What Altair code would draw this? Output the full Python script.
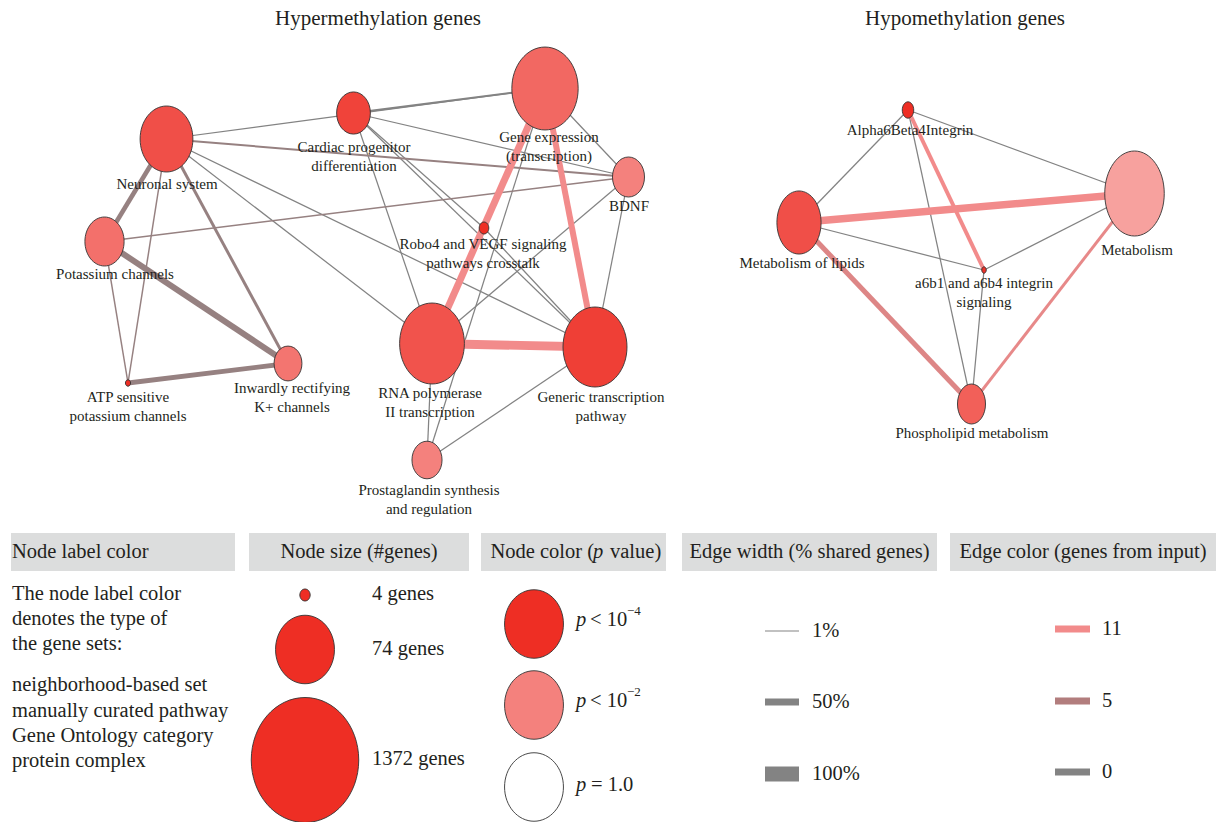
import altair as alt
import pandas as pd

W, H = 1219, 822
FONT = "Liberation Serif"
INK = "#231f20"

# ---------------- Hypermethylation gene-set network ----------------
hyper_ids = ["NEU", "POT", "ATP", "INW", "CAR", "GEX", "BDN", "ROB", "RNA", "GEN", "PRO"]
hyper_labels = [
    "Neuronal system",
    "Potassium channels",
    "ATP sensitive\npotassium channels",
    "Inwardly rectifying\nK+ channels",
    "Cardiac progenitor\ndifferentiation",
    "Gene expression\n(transcription)",
    "BDNF",
    "Robo4 and VEGF signaling\npathways crosstalk",
    "RNA polymerase\nII transcription",
    "Generic transcription\npathway",
    "Prostaglandin synthesis\nand regulation",
]
hyper_x = [166.5, 104.5, 128, 288, 353.5, 545, 628.5, 484, 432, 595, 427]
hyper_y = [139, 241.5, 383, 363.5, 113, 88.5, 177, 228, 343.5, 347, 460]
hyper_genes = [65, 27, 3, 13, 19, 156, 17, 4, 141, 134, 15]
hyper_neglogp = [3.2, 2.4, 4.0, 2.3, 3.5, 2.6, 2.0, 4.0, 3.1, 3.6, 2.0]
hyper_label_x = [167, 115, 128, 292, 354, 549, 629, 483, 430, 601, 429]
hyper_label_y = [184, 274, 397, 388, 147, 137, 206, 244, 393, 397, 490]

# (source, target, % shared genes, genes from input)
hyper_edges = [
    ("NEU", "GEX", 3, 0), ("NEU", "GEN", 3, 0), ("NEU", "RNA", 3, 0),
    ("CAR", "GEX", 9, 0), ("CAR", "BDN", 3, 0), ("CAR", "RNA", 3, 0),
    ("CAR", "GEN", 3, 0), ("CAR", "ROB", 3, 0), ("ROB", "GEN", 3, 0),
    ("GEX", "BDN", 3, 0), ("GEX", "PRO", 3, 0), ("BDN", "RNA", 3, 0),
    ("BDN", "GEN", 3, 0), ("RNA", "PRO", 3, 0), ("GEN", "PRO", 3, 0),
    ("NEU", "ATP", 5, 2), ("POT", "ATP", 5, 2), ("POT", "BDN", 5, 2),
    ("NEU", "BDN", 9, 2), ("NEU", "INW", 17, 2), ("NEU", "POT", 30, 2),
    ("ATP", "INW", 32, 2), ("POT", "INW", 42, 2),
    ("GEX", "RNA", 50, 11), ("GEX", "GEN", 42, 11), ("RNA", "GEN", 62, 11),
]

# ---------------- Hypomethylation gene-set network ----------------
hypo_ids = ["A64", "LIP", "MET", "A61", "PHO"]
hypo_labels = [
    "Alpha6Beta4Integrin",
    "Metabolism of lipids",
    "Metabolism",
    "a6b1 and a6b4 integrin\nsignaling",
    "Phospholipid metabolism",
]
hypo_x = [908, 799, 1134.5, 984, 971.5]
hypo_y = [110, 222.5, 193.5, 270, 404]
hypo_genes = [5, 56, 174, 3, 17]
hypo_neglogp = [4.0, 3.2, 1.5, 3.9, 2.8]
hypo_label_x = [910, 802, 1137, 984, 972]
hypo_label_y = [130, 263, 250, 283, 433]

hypo_edges = [
    ("A64", "LIP", 3, 0), ("A64", "MET", 3, 0), ("A64", "PHO", 3, 0),
    ("LIP", "A61", 3, 0), ("MET", "A61", 3, 0), ("A61", "PHO", 3, 0),
    ("MET", "PHO", 17, 10), ("A64", "A61", 25, 11),
    ("LIP", "PHO", 34, 9), ("LIP", "MET", 53, 11),
]

titles = ["Hypermethylation genes", "Hypomethylation genes"]
title_x = [378, 965]
title_y = [19, 19]

# ---------------- Legend content ----------------
header_text = ["Node label color", "Node size (#genes)", "Node color (p value)",
               "Edge width (% shared genes)", "Edge color (genes from input)"]
header_x0 = [11, 249, 481, 682, 950]
header_x1 = [235, 469, 666, 937, 1216]
header_y0, header_y1 = 533, 571

label_color_lines = ["The node label color", "denotes the type of", "the gene sets:",
                     "neighborhood-based set", "manually curated pathway",
                     "Gene Ontology category", "protein complex"]
label_color_y = [594, 619, 644, 685, 711, 736, 761]

size_legend_genes = [4, 74, 1372]
size_legend_text = ["4 genes", "74 genes", "1372 genes"]
size_legend_y = [595, 649.5, 760]

color_legend_neglogp = [4, 2, 0]
color_legend_rel = ["< 10", "< 10", "= 1.0"]
color_legend_exp = ["\u22124", "\u22122"]
color_legend_y = [624, 705, 787]

width_legend_shared = [1, 50, 100]
width_legend_text = ["1%", "50%", "100%"]
width_legend_y = [631, 702, 774]

ecolor_legend_input = [11, 5, 0]
ecolor_legend_text = ["11", "5", "0"]
ecolor_legend_y = [629, 701, 772]

# ---------------- Tables ----------------
def nodes_df(ids, xs, ys, genes, nlp):
    return pd.DataFrame({"id": ids, "x": xs, "y": ys, "genes": genes, "neglogp": nlp})


def edges_df(edges, nodes):
    pos = nodes.set_index("id")
    rows = []
    for s, t, shared, inp in edges:
        rows.append({"x": pos.at[s, "x"], "y": pos.at[s, "y"],
                     "x2": pos.at[t, "x"], "y2": pos.at[t, "y"],
                     "shared": shared, "from_input": inp})
    return pd.DataFrame(rows)


def lines_df(labels, xs, ys, step=19):
    rows = []
    for text, x, y in zip(labels, xs, ys):
        for i, line in enumerate(text.split("\n")):
            rows.append({"text": line, "x": x, "y": y + i * step})
    return pd.DataFrame(rows)


hyper_nodes = nodes_df(hyper_ids, hyper_x, hyper_y, hyper_genes, hyper_neglogp)
hypo_nodes = nodes_df(hypo_ids, hypo_x, hypo_y, hypo_genes, hypo_neglogp)
edges = pd.concat([edges_df(hyper_edges, hyper_nodes), edges_df(hypo_edges, hypo_nodes)])
node_labels = pd.concat([lines_df(hyper_labels, hyper_label_x, hyper_label_y),
                         lines_df(hypo_labels, hypo_label_x, hypo_label_y)])

legend_nodes = pd.DataFrame({
    "x": [305] * 3 + [534] * 3,
    "y": size_legend_y + color_legend_y,
    "genes": size_legend_genes + [74] * 3,
    "neglogp": [4.0, 4.0, 4.0] + [float(v) for v in color_legend_neglogp],
})
legend_edges = pd.DataFrame({
    "x": [765] * 3 + [1055] * 3,
    "x2": [799] * 3 + [1090] * 3,
    "y": width_legend_y + ecolor_legend_y,
    "shared": width_legend_shared + [50] * 3,
    "from_input": [0] * 3 + ecolor_legend_input,
})

# ---------------- Scales ----------------
xs = alt.Scale(domain=[0, W], nice=False, zero=False)
ys = alt.Scale(domain=[0, H], nice=False, zero=False, reverse=True)
fill_scale = alt.Scale(domain=[0, 2, 4], range=["#ffffff", "#f4817d", "#ee2e24"],
                       interpolate="rgb", clamp=True, nice=False, zero=False)
width_scale = alt.Scale(domain=[1, 50, 100], range=[1, 7, 15])
ecolor_scale = alt.Scale(domain=[0, 5, 11], range=["#838383", "#b27d7d", "#f28b8b"],
                         interpolate="rgb")

X = lambda f="x": alt.X(f"{f}:Q", scale=xs, axis=None)
Y = lambda f="y": alt.Y(f"{f}:Q", scale=ys, axis=None)

# node size: diameter grows with log(#genes)
SIZE_EXPR = "pow(-14.8 + 19.35 * log(datum.genes), 2)"


def ellipse(r):
    k = 0.5523
    return (f"M0,-1 C{k*r:.4f},-1 {r},{-k:.4f} {r},0 C{r},{k:.4f} {k*r:.4f},1 0,1 "
            f"C{-k*r:.4f},1 {-r},{k:.4f} {-r},0 C{-r},{-k:.4f} {-k*r:.4f},-1 0,-1 Z")


def node_layer(df, ratio):
    return alt.Chart(df).transform_calculate(size=SIZE_EXPR).mark_point(
        shape=ellipse(ratio), filled=True, opacity=1, stroke="#333333", strokeWidth=0.9
    ).encode(
        x=X(), y=Y(),
        size=alt.Size("size:Q", scale=None),
        fill=alt.Fill("neglogp:Q", scale=fill_scale, legend=None),
    )


def edge_layer(df, horizontal=False):
    enc = dict(
        x=X(), y=Y(), x2=alt.X2("x2:Q"),
        strokeWidth=alt.StrokeWidth("shared:Q", scale=width_scale, legend=None),
        color=alt.Color("from_input:Q", scale=ecolor_scale, legend=None),
    )
    if not horizontal:
        enc["y2"] = alt.Y2("y2:Q")
    return alt.Chart(df).mark_rule(strokeCap="butt").encode(**enc)


def text_layer(df, size, align="center", style="normal", dy=0):
    return alt.Chart(df).mark_text(
        font=FONT, fontSize=size, align=align, baseline="middle",
        fontStyle=style, color=INK, dy=dy
    ).encode(x=X(), y=Y(), text="text:N")


headers = pd.DataFrame({"x": header_x0, "x2": header_x1,
                        "y": [header_y0] * 5, "y2": [header_y1] * 5})
header_boxes = alt.Chart(headers).mark_rect(color="#dcdddd").encode(
    x=X(), x2=alt.X2("x2:Q"), y=Y(), y2=alt.Y2("y2:Q"))

hy = (header_y0 + header_y1) / 2
header_center = pd.DataFrame({
    "text": [header_text[1], header_text[3], header_text[4]],
    "x": [(header_x0[i] + header_x1[i]) / 2 for i in (1, 3, 4)],
    "y": [hy] * 3,
})
header_left = pd.DataFrame({"text": [header_text[0], "value)"], "x": [12, 610], "y": [hy, hy]})
header_right = pd.DataFrame({"text": ["Node color ("], "x": [594], "y": [hy]})
italic_p = pd.DataFrame({
    "text": ["p"] * 4,
    "x": [593, 576, 576, 576],
    "y": [hy, color_legend_y[0] - 4, color_legend_y[1] - 4, color_legend_y[2] - 2],
})

body_left = pd.concat([
    pd.DataFrame({"text": label_color_lines, "x": [12] * 7, "y": label_color_y}),
    pd.DataFrame({"text": size_legend_text, "x": [372] * 3, "y": [594, 649, 759]}),
    pd.DataFrame({"text": color_legend_rel, "x": [590, 590, 591],
                  "y": [color_legend_y[0] - 4, color_legend_y[1] - 4, color_legend_y[2] - 2]}),
    pd.DataFrame({"text": width_legend_text, "x": [812] * 3, "y": width_legend_y}),
    pd.DataFrame({"text": ecolor_legend_text, "x": [1102] * 3, "y": ecolor_legend_y}),
])
superscripts = pd.DataFrame({"text": color_legend_exp, "x": [627, 627],
                             "y": [color_legend_y[0] - 13, color_legend_y[1] - 13]})
title_df = pd.DataFrame({"text": titles, "x": title_x, "y": title_y})

chart = alt.layer(
    header_boxes,
    edge_layer(edges),
    node_layer(hyper_nodes, 0.8),
    node_layer(hypo_nodes, 0.7),
    node_layer(legend_nodes, 0.86),
    edge_layer(legend_edges, horizontal=True),
    text_layer(title_df, 21),
    text_layer(node_labels, 15),
    text_layer(header_center, 20.5),
    text_layer(header_left, 20.5, align="left"),
    text_layer(header_right, 20.5, align="right"),
    text_layer(italic_p, 20.5, align="left", style="italic"),
    text_layer(body_left, 20.5, align="left"),
    text_layer(superscripts, 13, align="left"),
).properties(
    width=W, height=H, padding=0,
    autosize=alt.AutoSizeParams(type="none"),
    background="white",
).configure_view(stroke=None)

chart.save("out.html", embed_options={"renderer": "svg", "actions": False})
